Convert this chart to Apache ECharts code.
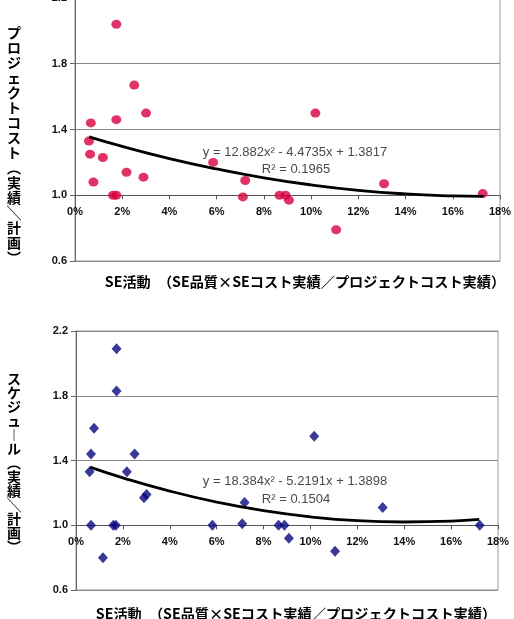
<!DOCTYPE html>
<html>
<head>
<meta charset="utf-8">
<script src="https://cdn.jsdelivr.net/npm/echarts@6/dist/echarts.min.js"></script>
<style>
html,body{margin:0;padding:0;background:#fff;overflow:hidden;}
#c{width:514px;height:629px;margin-top:-10px;}
</style>
</head>
<body>
<div id="c"></div>
<script>
// ---- Data ----
// Chart 1: Project cost (actual / plan) vs SE activity (%)
var costX = [1.75, 2.51, 0.67, 1.75, 3.01, 10.18, 0.59, 0.64, 1.18, 0.78, 2.18, 2.90, 5.85, 7.21, 7.11, 1.61, 1.75, 8.66, 8.92, 9.06, 11.06, 13.09, 17.27];
var costY = [2.04, 1.67, 1.44, 1.46, 1.50, 1.50, 1.33, 1.25, 1.23, 1.08, 1.14, 1.11, 1.20, 1.09, 0.99, 1.00, 1.00, 1.00, 1.00, 0.97, 0.79, 1.07, 1.01];
// Chart 2: Schedule (actual / plan) vs SE activity (%)
var schedX = [1.73, 1.73, 0.77, 0.64, 2.50, 10.16, 0.58, 2.17, 2.90, 3.01, 7.19, 13.08, 0.64, 1.59, 1.70, 5.82, 7.09, 8.64, 8.89, 9.08, 11.05, 1.15, 17.22];
var schedY = [2.09, 1.83, 1.60, 1.44, 1.44, 1.55, 1.33, 1.33, 1.17, 1.19, 1.14, 1.11, 1.00, 1.00, 1.00, 1.00, 1.01, 1.00, 1.00, 0.92, 0.84, 0.80, 1.00];
// Trendline points
var costTrendX = [0.6, 2, 4, 6, 8, 10, 12, 14, 16, 17.3];
var costTrendY = [1.355, 1.297, 1.223, 1.160, 1.106, 1.063, 1.030, 1.008, 0.996, 0.993];
var schedTrendX = [0.6, 2, 4, 6, 8, 10, 12, 14, 16, 17.2];
var schedTrendY = [1.359, 1.293, 1.211, 1.143, 1.090, 1.052, 1.028, 1.020, 1.025, 1.036];
// Axis ticks
var xTicks = {min: 0, max: 18, step: 2};
var yTicks = {min: 0.6, max: 2.2, step: 0.4};
// Texts
var costEq = 'y = 12.882x² - 4.4735x + 1.3817';
var costR2 = 'R² = 0.1965';
var schedEq = 'y = 18.384x² - 5.2191x + 1.3898';
var schedR2 = 'R² = 0.1504';
var xTitle = 'SE活動　（SE品質×SEコスト実績／プロジェクトコスト実績）';
var costYTitle = ['プ','ロ','ジ','ェ','ク','ト','コ','ス','ト','︵','実','績','╲','計','画','︶'];
var schedYTitle = ['ス','ケ','ジ','ュ','︱','ル','︵','実','績','╲','計','画','︶'];

function zip(a, b) { return a.map(function (v, i) { return [v, b[i]]; }); }

var LAT = '"Liberation Sans", Arial, sans-serif';
var CJK = '"Noto Sans CJK JP", sans-serif';
var SH = 10; // canvas is shifted up by this many pixels so the top plot can start above the window
var H = 629;

var grids = [
  {left: 75, right: 11, top: 8, bottom: 358},
  {left: 76, right: 16, top: 341, bottom: 29}
];
function gridHeight(g) { return H - g.top - g.bottom; }

function xAxisFor(i) {
  var h = gridHeight(grids[i]);
  var off = -h * (1.0 - yTicks.min) / (yTicks.max - yTicks.min);
  return {
    gridIndex: i, type: 'value', min: xTicks.min, max: xTicks.max, interval: xTicks.step,
    offset: off,
    axisLine: {show: true, lineStyle: {color: '#555', width: 1}},
    axisTick: {show: true, length: 4, lineStyle: {color: '#555'}},
    axisLabel: {formatter: function (v) { return v + '%'; }, fontFamily: LAT, fontWeight: 'bold', fontSize: 11, color: '#111', margin: 11},
    splitLine: {show: false}
  };
}
function yAxisFor(i) {
  return {
    gridIndex: i, type: 'value', min: yTicks.min, max: yTicks.max, interval: yTicks.step,
    axisLine: {show: true, lineStyle: {color: '#666', width: 1}},
    axisTick: {show: true, length: 5, lineStyle: {color: '#666'}},
    axisLabel: {formatter: function (v) { return v.toFixed(1); }, fontFamily: LAT, fontWeight: 'bold', fontSize: 11, color: '#111', margin: 8},
    splitLine: {show: true, lineStyle: {color: '#8a8a8a', width: 1}}
  };
}

var chart = echarts.init(document.getElementById('c'), null, {renderer: 'canvas'});
chart.setOption({
  animation: false,
  backgroundColor: '#fff',
  grid: grids.map(function (g) {
    return {left: g.left, right: g.right, top: g.top, bottom: g.bottom, show: true, borderColor: '#999', borderWidth: 1, backgroundColor: 'transparent'};
  }),
  xAxis: [xAxisFor(0), xAxisFor(1)],
  yAxis: [yAxisFor(0), yAxisFor(1)],
  series: [
    {type: 'scatter', xAxisIndex: 0, yAxisIndex: 0, data: zip(costX, costY), symbol: 'circle', symbolSize: [10, 9], itemStyle: {color: '#d8003f'}, z: 2},
    {type: 'line', xAxisIndex: 0, yAxisIndex: 0, data: zip(costTrendX, costTrendY), smooth: true, showSymbol: false, lineStyle: {color: '#000', width: 2.8}, z: 3},
    {type: 'scatter', xAxisIndex: 1, yAxisIndex: 1, data: zip(schedX, schedY), symbol: 'diamond', symbolSize: [10, 11], itemStyle: {color: '#08087e'}, z: 2},
    {type: 'line', xAxisIndex: 1, yAxisIndex: 1, data: zip(schedTrendX, schedTrendY), smooth: true, showSymbol: false, lineStyle: {color: '#000', width: 2.8}, z: 3}
  ],
  graphic: [
    {type: 'text', style: {text: costEq, x: 295, y: 152 + SH, align: 'center', verticalAlign: 'middle', font: '13px ' + LAT, fill: '#4a4a4a'}, z: 10},
    {type: 'text', style: {text: costR2, x: 296, y: 169 + SH, align: 'center', verticalAlign: 'middle', font: '13px ' + LAT, fill: '#4a4a4a'}, z: 10},
    {type: 'text', style: {text: schedEq, x: 295, y: 481 + SH, align: 'center', verticalAlign: 'middle', font: '13px ' + LAT, fill: '#4a4a4a'}, z: 10},
    {type: 'text', style: {text: schedR2, x: 296, y: 499 + SH, align: 'center', verticalAlign: 'middle', font: '13px ' + LAT, fill: '#4a4a4a'}, z: 10},
    {type: 'text', style: {text: xTitle, x: 305, y: 282 + SH, align: 'center', verticalAlign: 'middle', font: 'bold 14.2px ' + CJK, fill: '#000'}},
    {type: 'text', style: {text: xTitle, x: 296, y: 614 + SH, align: 'center', verticalAlign: 'middle', font: 'bold 14.2px ' + CJK, fill: '#000'}},
    {type: 'text', style: {text: costYTitle.join('\n'), x: 14, y: 25 + SH, align: 'center', verticalAlign: 'top', font: 'bold 14px ' + CJK, lineHeight: 15, fill: '#000'}},
    {type: 'text', style: {text: schedYTitle.join('\n'), x: 14, y: 372 + SH, align: 'center', verticalAlign: 'top', font: 'bold 14px ' + CJK, lineHeight: 14, fill: '#000'}}
  ]
});
</script>
</body>
</html>
